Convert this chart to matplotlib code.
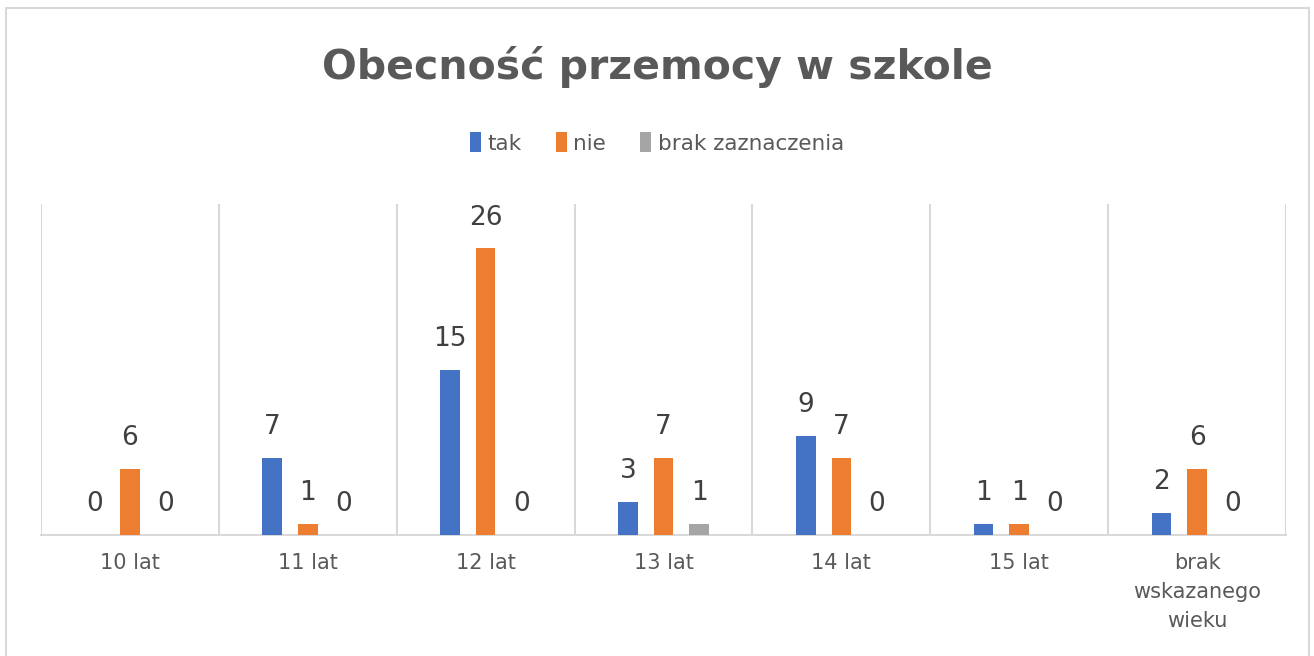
import numpy as np
import matplotlib.pyplot as plt
from matplotlib.patches import Rectangle

# dane
kategorie = ['10 lat', '11 lat', '12 lat', '13 lat', '14 lat', '15 lat', 'brak\nwskazanego\nwieku']
tak = [0, 7, 15, 3, 9, 1, 2]
nie = [6, 1, 26, 7, 7, 1, 6]
brak = [0, 0, 0, 1, 0, 0, 0]
serie = ['tak', 'nie', 'brak zaznaczenia']
kolory = ['#4472C4', '#ED7D31', '#A5A5A5']

plt.rcParams['font.family'] = ['DejaVu Sans']

fig = plt.figure(figsize=(13.14, 6.56), dpi=100)
ax = fig.add_axes([41/1314, 1-535/656, (1286-41)/1314, (535-204)/656])

# ramka wykresu
fig.patches.append(Rectangle((6/1314, -0.1), (1309-6)/1314, 1.1-8/656, transform=fig.transFigure,
                             fill=False, edgecolor='#D9D9D9', linewidth=1.5))

x = np.arange(len(kategorie))
w = 0.11
for k, (vals, nazwa, kol) in enumerate(zip([tak, nie, brak], serie, kolory)):
    pos = x + (k - 1) * 0.2
    ax.bar(pos, vals, width=w, color=kol, label=nazwa, zorder=3)
    for px, v in zip(pos, vals):
        ax.annotate(str(v), (px, v), xytext=(0, 22), textcoords='offset points',
                    ha='center', va='center', fontsize=19, color='#404040')

ax.set_xlim(-0.5, len(kategorie) - 0.5)
ax.set_ylim(0, 30)
ax.set_yticks([])
ax.set_xticks(x)
ax.set_xticklabels(kategorie, fontsize=15, color='#595959', linespacing=1.55)
ax.tick_params(axis='x', length=0, pad=13)
for b in np.arange(-0.5, len(kategorie), 1.0):
    ax.axvline(b, color='#D9D9D9', linewidth=1.5, zorder=1)
for s in ['top', 'left', 'right']:
    ax.spines[s].set_visible(False)
ax.spines['bottom'].set_color('#D9D9D9')
ax.spines['bottom'].set_linewidth(1.5)

fig.text(0.5, 1-67/656, 'Obecność przemocy w szkole', ha='center', va='center',
         fontsize=29.5, fontweight='bold', color='#595959')
fig.legend(loc='center', bbox_to_anchor=(0.5, 1-143/656), ncol=3, frameon=False,
           fontsize=15.5, labelcolor='#595959', handlelength=0.5, handleheight=1.0,
           handletextpad=0.3, columnspacing=1.6)

fig.savefig('out.png', dpi=100)
